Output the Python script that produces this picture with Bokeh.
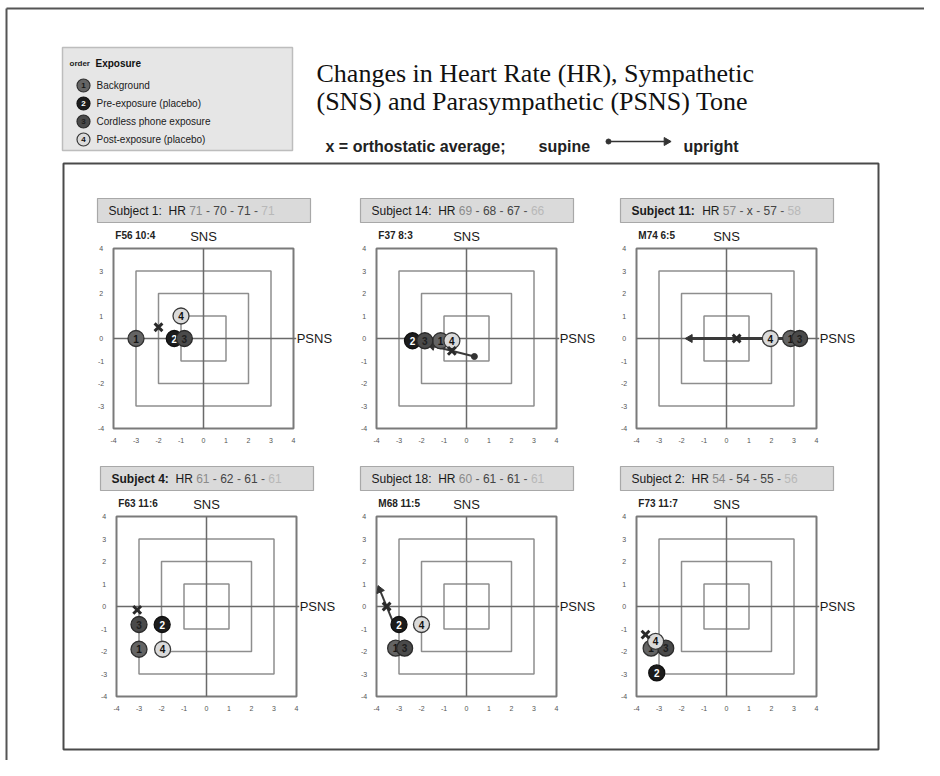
import math
from bokeh.plotting import figure
from bokeh.models import Range1d
from bokeh.embed import file_html
from bokeh.resources import INLINE
from bokeh.core.properties import value

# ---------------- data ----------------
subjects = ["Subject 1", "Subject 14", "Subject 11", "Subject 4", "Subject 18", "Subject 2"]
subject_bold = [False, False, True, True, False, False]
demog = ["F56 10:4", "F37 8:3", "M74 6:5", "F63 11:6", "M68 11:5", "F73 11:7"]
hr = [["71", "70", "71", "71"],
      ["69", "68", "67", "66"],
      ["57", "x", "57", "58"],
      ["61", "62", "61", "61"],
      ["60", "61", "61", "61"],
      ["54", "54", "55", "56"]]
order_labels = ["1", "2", "3", "4"]
exposure_names = ["Background", "Pre-exposure (placebo)", "Cordless phone exposure", "Post-exposure (placebo)"]
# PSNS (x) and SNS (y) per exposure order 1..4 (None = missing)
psns = [[-3.0, -1.3, -0.85, -1.0],
        [-1.15, -2.4, -1.85, -0.65],
        [2.85, None, 3.25, 1.95],
        [-3.0, -1.97, -3.0, -1.95],
        [-3.15, -3.0, -2.75, -2.0],
        [-3.35, -3.1, -2.7, -3.15]]
sns = [[0.0, 0.0, 0.0, 1.0],
       [-0.1, -0.1, -0.1, -0.1],
       [0.0, None, 0.0, 0.0],
       [-1.9, -0.8, -0.8, -1.9],
       [-1.85, -0.8, -1.85, -0.8],
       [-1.85, -2.95, -1.85, -1.55]]
avg_psns = [-2.0, -0.65, 0.45, -3.08, -3.55, -3.6]
avg_sns = [0.5, -0.55, 0.0, -0.15, 0.0, -1.25]
supine_psns = [None, 0.35, 2.65, None, -3.2, None]
supine_sns = [None, -0.8, 0.0, None, -0.85, None]
upright_psns = [None, -1.65, -1.75, None, -3.9, None]
upright_sns = [None, -0.3, 0.0, None, 0.85, None]
ticks = [-4, -3, -2, -1, 0, 1, 2, 3, 4]
squares = [1, 2, 3]

title_lines = ["Changes in Heart Rate (HR), Sympathetic", "(SNS) and Parasympathetic (PSNS) Tone"]

# ---------------- styles / layout ----------------
circ_fill = ["#646464", "#1c1c1c", "#4a4a4a", "#dadada"]
circ_line = ["#303030", "#101010", "#2a2a2a", "#3a3a3a"]
num_color = ["#151515", "#ffffff", "#1e1e1e", "#111111"]
hr_colors = ["#8a8a8a", "#444444", "#444444", "#b8b8b8"]
SANS = value("Liberation Sans")
SERIF = value("Liberation Serif")

W, H = 924, 760
K = 22.5  # px per unit in subplots
frame_left = [113, 376, 636, 116, 376, 636]
frame_top = [248, 248, 248, 516, 516, 516]

p = figure(width=W, height=H, output_backend="svg", toolbar_location=None,
           x_range=Range1d(0, W), y_range=Range1d(H, 0),
           x_axis_location=None, y_axis_location=None, min_border=0, title=None)
p.grid.visible = False
p.outline_line_color = None
p.background_fill_color = "white"
p.border_fill_color = "white"

xr, yr = {}, {}
for i in range(6):
    L, T = frame_left[i], frame_top[i]
    xs = -4 - L / K
    ys = -4 - (H - (T + 180)) / K
    xr[f"x{i}"] = Range1d(xs, xs + W / K)
    yr[f"y{i}"] = Range1d(ys, ys + H / K)
p.extra_x_ranges = xr
p.extra_y_ranges = yr

# page border (scan edge)
p.segment(x0=[6, 6], y0=[8, 8], x1=[924, 6], y1=[8, 760], line_color="#555555", line_width=2)

# legend box
p.quad(left=[62], right=[292], top=[47], bottom=[150], fill_color="#e6e6e6",
       line_color="#bdbdbd", line_width=1.5)
p.text(x=[69], y=[63], text=["order"], text_font=SANS, text_font_size="8px",
       text_font_style="bold", text_baseline="middle", text_color="#222222")
p.text(x=[95], y=[63], text=["Exposure"], text_font=SANS, text_font_size="10px",
       text_font_style="bold", text_baseline="middle", text_color="#111111")
leg_y = [85, 103, 121, 139]
p.scatter(x=[83] * 4, y=leg_y, size=13, fill_color=circ_fill, line_color=circ_line, line_width=1.2)
p.text(x=[83] * 4, y=leg_y, text=order_labels, text_font=SANS, text_font_size="8px",
       text_font_style="bold", text_align="center", text_baseline="middle", text_color=num_color)
p.text(x=[96] * 4, y=leg_y, text=exposure_names, text_font=SANS, text_font_size="10px",
       text_baseline="middle", text_color="#1a1a1a")

# title
p.text(x=[316, 316], y=[73, 101], text=title_lines, text_font=SERIF, text_font_size="26px",
       text_baseline="alphabetic", text_color="#111111")
p.text(x=[325], y=[146], text=["x = orthostatic average;"], text_font=SANS, text_font_size="16px",
       text_font_style="bold", text_baseline="alphabetic", text_color="#222222")
p.text(x=[538, 683], y=[146, 146], text=["supine", "upright"], text_font=SANS, text_font_size="16px",
       text_font_style="bold", text_baseline="alphabetic", text_color="#222222")
p.segment(x0=[608], y0=[141], x1=[664], y1=[141], line_color="#333333", line_width=1.5)
p.scatter(x=[608], y=[141], size=5, fill_color="#333333", line_color="#333333")
p.scatter(x=[666], y=[141], marker="triangle", size=8, angle=[-math.pi / 2],
          fill_color="#333333", line_color="#333333")

# panel box
p.quad(left=[63], right=[878], top=[163], bottom=[749], fill_color=None,
       line_color="#4a4a4a", line_width=2)

REG = {' ': 278, '-': 333, ':': 278, 'S': 667, 'u': 556, 'b': 556, 'j': 222, 'e': 556,
       'c': 500, 't': 278, 'H': 722, 'R': 722, 'x': 500}
BOLD = {' ': 278, '-': 333, ':': 333, 'S': 667, 'u': 611, 'b': 611, 'j': 278, 'e': 556,
        'c': 556, 't': 333, 'H': 722, 'R': 722, 'x': 556}


def tw(s, bold, size):
    tab = BOLD if bold else REG
    return sum(tab.get(ch, 556) for ch in s) * size / 1000.0


HSZ = 12
for i in range(6):
    xn, yn = f"x{i}", f"y{i}"
    kw = dict(x_range_name=xn, y_range_name=yn)
    # header box
    hl = -4 - 16 / K
    p.quad(left=[hl], right=[hl + 213 / K], top=[4 + 50 / K], bottom=[4 + 26 / K],
           fill_color="#dadada", line_color="#a8a8a8", line_width=1.2, **kw)
    parts = [(subjects[i] + ":", subject_bold[i], "#1a1a1a"), ("  HR ", False, "#1a1a1a"),
             (hr[i][0], False, hr_colors[0]), (" - ", False, "#555555"),
             (hr[i][1], False, hr_colors[1]), (" - ", False, "#555555"),
             (hr[i][2], False, hr_colors[2]), (" - ", False, "#555555"),
             (hr[i][3], False, hr_colors[3])]
    off = 0.0
    hx = hl + 11 / K
    hy = 4 + 38 / K
    for t, b, c in parts:
        lead = len(t) - len(t.lstrip(' '))
        o = off + lead * tw(' ', b, HSZ)
        p.text(x=[hx], y=[hy], text=[t.strip()], x_offset=o, text_font=SANS,
               text_font_size=f"{HSZ}px", text_font_style="bold" if b else "normal",
               text_baseline="middle", text_color=c, **kw)
        off += tw(t, b, HSZ)
    # squares
    p.rect(x=[0] * 3, y=[0] * 3, width=[2 * s for s in squares], height=[2 * s for s in squares],
           fill_color=None, line_color="#8e8e8e", line_width=1.5, **kw)
    p.rect(x=[0], y=[0], width=[8], height=[8], fill_color=None, line_color="#7a7a7a",
           line_width=2, **kw)
    # axes
    p.segment(x0=[-4, 0], y0=[0, -4], x1=[4.12, 0], y1=[0, 4], line_color="#6a6a6a",
              line_width=1.5, **kw)
    # tick labels
    p.text(x=[-4.55] * 9, y=ticks, text=[str(t) for t in ticks], text_font=SANS,
           text_font_size="7px", text_align="center", text_baseline="middle",
           text_color="#555555", **kw)
    p.text(x=ticks, y=[-4.55] * 9, text=[str(t) for t in ticks], text_font=SANS,
           text_font_size="7px", text_align="center", text_baseline="middle",
           text_color="#555555", **kw)
    # labels
    p.text(x=[-3.92], y=[4 + 13 / K], text=[demog[i]], text_font=SANS, text_font_size="10px",
           text_font_style="bold", text_baseline="middle", text_color="#222222", **kw)
    p.text(x=[0], y=[4 + 12 / K], text=["SNS"], text_font=SANS, text_font_size="13px",
           text_align="center", text_baseline="middle", text_color="#1a1a1a", **kw)
    p.text(x=[4.14], y=[0], text=["PSNS"], text_font=SANS, text_font_size="13px",
           text_baseline="middle", text_color="#1a1a1a", **kw)
    # arrow supine -> upright
    if supine_psns[i] is not None:
        sx, sy = supine_psns[i], supine_sns[i]
        ux, uy = upright_psns[i], upright_sns[i]
        ang = math.atan2(uy - sy, ux - sx)
        lw = 3 if i == 2 else 2
        p.segment(x0=[sx], y0=[sy], x1=[ux - 0.1 * math.cos(ang)], y1=[uy - 0.1 * math.sin(ang)],
                  line_color="#3a3a3a", line_width=lw, **kw)
        p.scatter(x=[sx], y=[sy], size=6, fill_color="#333333", line_color="#333333", **kw)
        p.scatter(x=[ux - 0.12 * math.cos(ang)], y=[uy - 0.12 * math.sin(ang)], marker="triangle",
                  size=8, angle=[ang - math.pi / 2], fill_color="#333333", line_color="#333333", **kw)
    # circles
    cx, cy, cf, cl, cn, ct = [], [], [], [], [], []
    for k in range(4):
        if psns[i][k] is None:
            continue
        cx.append(psns[i][k]); cy.append(sns[i][k])
        cf.append(circ_fill[k]); cl.append(circ_line[k])
        cn.append(order_labels[k]); ct.append(num_color[k])
    for j in range(len(cx)):
        p.scatter(x=[cx[j]], y=[cy[j]], size=16, fill_color=cf[j], line_color=cl[j],
                  line_width=1.3, **kw)
        p.text(x=[cx[j]], y=[cy[j]], text=[cn[j]], text_font=SANS, text_font_size="10px",
               text_font_style="bold", text_align="center", text_baseline="middle",
               text_color=ct[j], **kw)
    # orthostatic average
    p.scatter(x=[avg_psns[i]], y=[avg_sns[i]], marker="x", size=11, line_color="#2a2a2a",
              line_width=3, **kw)

open("out.html", "w").write(file_html(p, INLINE))
